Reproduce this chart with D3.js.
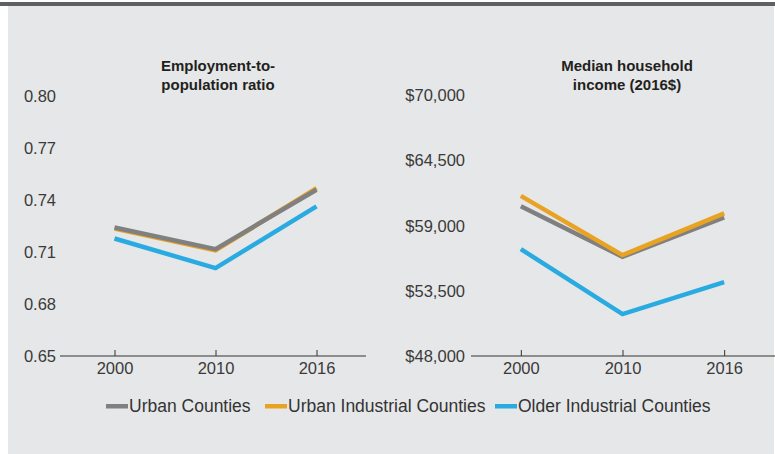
<!DOCTYPE html>
<html><head><meta charset="utf-8">
<script src="https://cdn.jsdelivr.net/npm/d3@7/dist/d3.min.js"></script>
<style>
html,body{margin:0;padding:0;background:#fff;}
svg{display:block;font-family:"Liberation Sans",Arial,sans-serif;}
</style></head>
<body>
<svg id="c" width="775" height="454"></svg>
<script>
const years = ["2000","2010","2016"];
const seriesNames = ["Urban Counties","Urban Industrial Counties","Older Industrial Counties"];
const seriesColors = ["#808080","#e8a323","#29abe2"];
// Employment-to-population ratio
const empUrban = [0.7243, 0.7118, 0.7461];
const empUrbanInd = [0.7236, 0.7110, 0.7470];
const empOlderInd = [0.7179, 0.7008, 0.7365];
const empTicks = [0.65, 0.68, 0.71, 0.74, 0.77, 0.80];
// Median household income (2016$)
const incUrban = [60650, 56380, 59700];
const incUrbanInd = [61520, 56520, 60040];
const incOlderInd = [57030, 51540, 54240];
const incTicks = [48000, 53500, 59000, 64500, 70000];

const svg = d3.select("#c");
svg.append("rect").attr("x",8).attr("y",5).attr("width",766).attr("height",449).attr("fill","#e6e7e8");
svg.append("rect").attr("x",0).attr("y",2).attr("width",775).attr("height",4).attr("fill","#5f6062");

function panel(opts){
  const x = d3.scalePoint().domain(years).range(opts.xr).padding(0.5);
  const y = d3.scaleLinear().domain([opts.ticks[0], opts.ticks[opts.ticks.length-1]]).range([356, opts.ytop]);
  const g = svg.append("g");
  g.append("line").attr("x1",opts.lx[0]).attr("x2",opts.lx[1]).attr("y1",y(opts.ticks[0])).attr("y2",y(opts.ticks[0]))
    .attr("stroke","#333").attr("stroke-width",1);
  const xa = g.append("g").attr("transform",`translate(0,${y(opts.ticks[0])})`)
    .call(d3.axisBottom(x).tickSize(-6).tickPadding(9));
  xa.select(".domain").remove();
  xa.selectAll("line").attr("stroke","#333");
  xa.selectAll("text").attr("font-size",16.5).attr("fill","#3a3a3a").attr("dy",null).attr("y",17.5);
  const ya = g.append("g").attr("transform",`translate(${opts.yx},0)`)
    .call(d3.axisLeft(y).tickValues(opts.ticks).tickSize(0).tickPadding(0).tickFormat(opts.fmt));
  ya.select(".domain").remove();
  ya.selectAll("text").attr("font-size",16.5).attr("fill","#3a3a3a");
  const t = g.append("text").attr("x",opts.tx).attr("text-anchor","middle").attr("font-weight","bold")
    .attr("font-size",15).attr("fill","#231f20");
  t.append("tspan").attr("x",opts.tx).attr("y",71).text(opts.title[0]);
  t.append("tspan").attr("x",opts.tx).attr("y",90).text(opts.title[1]);
  const line = d3.line().x((d,i)=>x(years[i])).y(d=>y(d));
  opts.order.forEach(k=>{
    g.append("path").datum(opts.data[k]).attr("d",line).attr("fill","none")
      .attr("stroke",seriesColors[k]).attr("stroke-width",4.5).attr("stroke-linejoin","miter");
  });
}

panel({xr:[64,367], lx:[60,366], ticks:empTicks, ytop:96.5, yx:56, fmt:d3.format(".2f"),
  tx:218, title:["Employment-to-","population ratio"],
  data:[empUrban,empUrbanInd,empOlderInd], order:[2,1,0]});
panel({xr:[470,775], lx:[471,775], ticks:incTicks, ytop:95.5, yx:465, fmt:d=>"$"+d3.format(",")(d),
  tx:627, title:["Median household","income (2016$)"],
  data:[incUrban,incUrbanInd,incOlderInd], order:[2,0,1]});

const leg = svg.append("g");
const legX = [106, 265, 495];
seriesNames.forEach((n,i)=>{
  leg.append("rect").attr("x",legX[i]).attr("y",404).attr("width",22).attr("height",4.5).attr("fill",seriesColors[i]);
  leg.append("text").attr("x",legX[i]+23).attr("y",412).attr("font-size",17.5).attr("fill","#333").text(n);
});
</script>
</body></html>
